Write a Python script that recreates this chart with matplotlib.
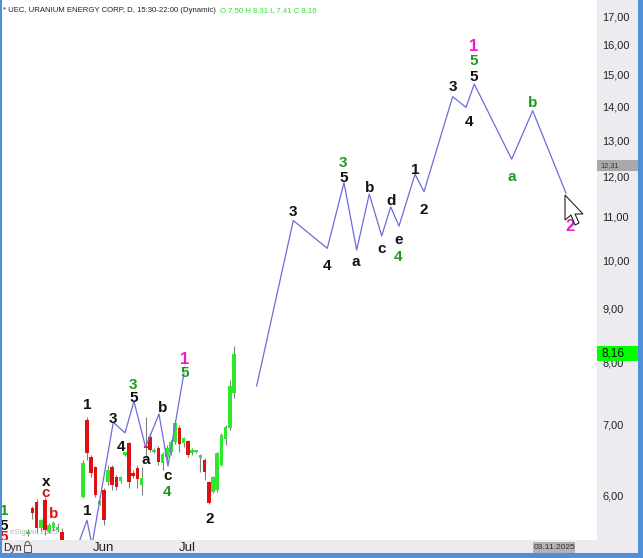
import matplotlib
matplotlib.use("Agg")
import matplotlib.pyplot as plt
from matplotlib.patches import Rectangle, Polygon, Arc
from matplotlib.transforms import blended_transform_factory
from matplotlib.ticker import FixedLocator, NullLocator, FixedFormatter, NullFormatter

plt.rcParams['font.family'] = ['Liberation Sans', 'DejaVu Sans']

W, H = 643, 558

# ---------------- data ----------------
bar_idx = list(range(50))
opens = [5.51, 5.83, 5.91, 5.58, 5.93, 5.54, 5.58, 5.56, 5.54, 5.42,
         5.33, 5.30, 5.28, 5.97, 7.07, 6.52, 6.38, 5.89, 6.07, 6.17,
         6.38, 6.24, 6.19, 6.55, 6.72, 6.29, 6.36, 6.13, 6.67, 6.81,
         6.59, 6.65, 6.43, 6.52, 6.59, 6.73, 6.94, 6.72, 6.75, 6.57,
         6.59, 6.50, 6.48, 6.17, 6.04, 6.06, 6.41, 6.78, 6.94, 7.50]
highs = [5.57, 5.86, 5.95, 5.70, 5.97, 5.65, 5.67, 5.64, 5.58, 5.40,
         5.38, 5.36, 5.38, 6.48, 7.11, 6.55, 6.39, 5.93, 6.09, 6.41,
         6.41, 6.27, 6.26, 6.59, 6.74, 6.33, 6.41, 6.38, 7.11, 6.87,
         6.64, 6.67, 6.59, 6.69, 6.76, 7.07, 6.99, 6.81, 6.76, 6.64,
         6.62, 6.56, 6.50, 6.19, 6.26, 6.59, 6.87, 6.99, 7.71, 8.31]
lows = [5.49, 5.70, 5.52, 5.55, 5.50, 5.52, 5.55, 5.53, 5.38, 5.30,
        5.25, 5.22, 5.24, 5.96, 6.48, 6.24, 5.97, 5.87, 5.62, 6.13,
        6.07, 6.07, 6.16, 6.53, 6.09, 6.22, 6.09, 6.00, 6.50, 6.59,
        6.57, 6.41, 6.34, 6.48, 6.55, 6.71, 6.59, 6.66, 6.52, 6.55,
        6.58, 6.31, 6.20, 5.88, 6.02, 6.04, 6.39, 6.69, 6.92, 7.41]
closes = [5.53, 5.77, 5.58, 5.68, 5.56, 5.62, 5.64, 5.60, 5.42, 5.33,
          5.30, 5.27, 5.35, 6.43, 6.57, 6.29, 6.00, 5.91, 5.68, 6.34,
          6.13, 6.11, 6.24, 6.57, 6.17, 6.26, 6.21, 6.23, 6.65, 6.62,
          6.62, 6.45, 6.56, 6.65, 6.73, 7.02, 6.71, 6.79, 6.55, 6.62,
          6.61, 6.55, 6.31, 5.90, 6.24, 6.57, 6.84, 6.96, 7.61, 8.16]

month_labels = ['Jun', 'Jul']
month_idx = [18, 38]

price_ticks = [6, 7, 8, 9, 10, 11, 12, 13, 14, 15, 16, 17]
tick_labels = ['6,00', '7,00', '8,00', '9,00', '10,00', '11,00', '12,00',
               '13,00', '14,00', '15,00', '16,00', '17,00']

last_price = 8.16
last_price_label = '8,16'
cursor_price = 12.31
cursor_price_label = '12,31'
cursor_date = '03.11.2025'

header = '* UEC, URANIUM ENERGY CORP, D, 15:30-22:00 (Dynamic)'
ohlc_text = 'O 7,50 H 8,31 L 7,41 C 8,16'

# Elliott wave path drawn over the candles
wave1_x = [11.86, 14.0, 15.19, 20.26, 23.05, 25.19, 27.95, 31.14, 33.29, 37.1]
wave1_y = [5.38, 5.68, 5.38, 7.03, 6.87, 7.36, 6.66, 7.16, 6.39, 7.83]
# projected wave path
wave2_x = [54.4, 63.12, 71.21, 75.19, 78.21, 81.21, 84.17, 86.31, 88.29,
           92.1, 94.24, 101.07, 104.24, 106.21, 115.12, 120.12, 128.05]
wave2_y = [7.61, 10.91, 10.27, 11.85, 10.23, 11.56, 10.55, 11.24, 10.78,
           12.07, 11.62, 14.29, 13.96, 14.69, 12.47, 13.86, 11.58]

# wave labels: text, bar index, price, colour key
lab_text = ['1', '1', '3', '4', '3', '5', 'b', 'a', 'c', '4', '1', '5', '2',
            'x', 'c', 'b', '1', '5', '5',
            '3', '4', '3', '5', 'a', 'b', 'c', 'd', 'e', '4', '1', '2',
            '3', '4', '5', '5', '1', 'b', 'a', '2']
lab_x = [14.0, 14.0, 20.19, 22.02, 25.02, 25.02, 32.02, 28.05, 33.12, 33.12, 37.17, 37.17, 43.12,
         4.17, 4.17, 6.14, -5.76, -5.76, -5.76,
         63.12, 71.26, 75.02, 75.02, 78.05, 81.21, 84.17, 86.31, 88.12, 88.12, 92.1, 94.07,
         101.07, 105.02, 106.14, 106.14, 106.14, 120.12, 115.12, 129.0]
lab_y = [7.33, 5.81, 7.11, 6.68, 7.65, 7.43, 7.27, 6.48, 6.25, 6.06, 8.08, 7.85, 5.71,
         6.17, 6.02, 5.77, 5.82, 5.63, 5.49,
         11.16, 9.92, 12.40, 12.02, 9.97, 11.74, 10.25, 11.41, 10.46, 10.12, 12.23, 11.19,
         14.63, 13.56, 14.98, 15.50, 15.99, 14.13, 12.00, 10.81]
lab_col = ['k', 'k', 'k', 'k', 'g', 'k', 'k', 'k', 'k', 'g', 'p', 'g', 'k',
           'k', 'r', 'r', 'g', 'k', 'r',
           'k', 'k', 'g', 'k', 'k', 'k', 'k', 'k', 'k', 'g', 'k', 'k',
           'k', 'k', 'k', 'g', 'p', 'g', 'g', 'p']

# ---------------- styles ----------------
colmap = {'k': '#111111', 'g': '#1f9a1f', 'p': '#ee1ad0', 'r': '#d81515'}
up_col, dn_col, wick_col = '#2ee82e', '#dd1111', '#808080'
wave_col = '#6c6cd8'
panel_col = '#ececf0'
border_col = '#4d8fd8'

fig = plt.figure(figsize=(W / 100, H / 100), dpi=100)
fig.patch.set_facecolor(panel_col)

ax = fig.add_axes([0, 18 / H, 597 / W, 540 / H])
ax.set_facecolor('white')
ax.set_yscale('log')
ax.set_xlim(-6.71, 135.43)
ax.set_ylim(5.44, 17.64)
for s in ax.spines.values():
    s.set_visible(False)
ax.xaxis.set_major_locator(NullLocator())
ax.xaxis.set_minor_locator(NullLocator())
ax.yaxis.tick_right()
ax.yaxis.set_major_locator(FixedLocator(price_ticks))
ax.yaxis.set_major_formatter(FixedFormatter(tick_labels))
ax.yaxis.set_minor_locator(NullLocator())
ax.yaxis.set_minor_formatter(NullFormatter())
ax.tick_params(axis='y', length=0, pad=4, labelsize=7.9, labelcolor='#222222')
ax.tick_params(axis='x', length=0, labelbottom=False)

# watermark (behind candles)
ax.text(10 / W, 1 - 533 / H, 'eSignal, 2025', transform=fig.transFigure,
        fontsize=5.6, color='#b5b5b5', va='center', ha='left', zorder=1)

# candles
for i, o, h, l, c in zip(bar_idx, opens, highs, lows, closes):
    col = up_col if c >= o else dn_col
    ax.vlines(i, l, h, color=wick_col, lw=0.8, zorder=2)
    lo, hi = min(o, c), max(o, c)
    if hi / lo < 1.005:
        hi = lo * 1.005
    ax.bar(i, hi - lo, bottom=lo, width=0.85, color=col, linewidth=0, zorder=3)

# wave lines
ax.plot(wave1_x, wave1_y, color=wave_col, lw=0.9, zorder=4)
ax.plot(wave2_x, wave2_y, color=wave_col, lw=0.9, zorder=4)

# wave labels
for t, x, y, ck in zip(lab_text, lab_x, lab_y, lab_col):
    fs = 12 if ck == 'p' else 11
    off = 4.0 if t in ('a', 'c', 'e', 'x') else 5.5
    if ck == 'p':
        off = 6.0
    ax.annotate(t, (x, y), xytext=(0, -off), textcoords='offset pixels',
                ha='center', va='baseline', fontsize=fs, fontweight='bold',
                color=colmap[ck], zorder=5, annotation_clip=False, clip_on=True)

# header
fig.text(3 / W, 1 - 11 / H, header, fontsize=5.55, color='#222222', va='center', ha='left')
fig.text(220 / W, 1 - 11 / H, ohlc_text, fontsize=5.55, color='#33e033', va='center', ha='left')


def fig_rect(x0, ytop, w, h, **kw):
    r = Rectangle((x0 / W, 1 - (ytop + h) / H), w / W, h / H,
                  transform=fig.transFigure, **kw)
    fig.patches.append(r)
    return r


# price boxes on the right axis
y_cur = H - ax.transData.transform((0, cursor_price))[1]
fig_rect(597, y_cur - 5.5, 43, 11, facecolor='#a9a9a9', edgecolor='none', zorder=1)
fig.text(600 / W, 1 - y_cur / H, cursor_price_label, fontsize=5.3, color='#333333',
         va='center', ha='left', zorder=3)

y_last = H - ax.transData.transform((0, last_price))[1]
fig_rect(597, y_last - 7.5, 42, 15, facecolor='#00ff00', edgecolor='none', zorder=1)
fig.text(602 / W, 1 - y_last / H, last_price_label, fontsize=8.5, color='#111111',
         va='center', ha='left', zorder=3)

# bottom strip
btr = blended_transform_factory(ax.transData, fig.transFigure)
for lbl, xi in zip(month_labels, month_idx):
    ax.text(xi, 1 - 548 / H, lbl, transform=btr, fontsize=9.5, color='#222222',
            ha='center', va='center', clip_on=False)
fig.text(3 / W, 1 - 548 / H, 'Dyn', fontsize=7.5, color='#222222', va='center', ha='left')
# lock icon
fig_rect(24, 545, 7, 7, facecolor='none', edgecolor='#555555', lw=0.7, zorder=2)
fig.patches.append(Arc((27.5 / W, 1 - 545 / H), 5 / W, 7 / H, theta1=0, theta2=180,
                       transform=fig.transFigure, color='#555555', lw=0.7))

fig_rect(533, 542, 42, 11, facecolor='#b3b3b3', edgecolor='none', zorder=1)
fig.text(554 / W, 1 - 547.5 / H, cursor_date, fontsize=6, color='#333333',
         va='center', ha='center', zorder=3)

# window borders
fig_rect(0, 553, W, 5, facecolor=border_col, edgecolor='none', zorder=2)
fig_rect(638, 0, 5, H, facecolor=border_col, edgecolor='none', zorder=2)
fig_rect(0, 0, 1.5, H, facecolor=border_col, edgecolor='none', zorder=2)

# mouse cursor
tip_x, tip_y = 565, 195
cur = [(0, 0), (0, 25), (6, 20), (10, 30), (14, 28), (10, 19), (18, 19)]
fig.patches.append(Polygon([((tip_x + dx) / W, 1 - (tip_y + dy) / H) for dx, dy in cur],
                           closed=True, transform=fig.transFigure, facecolor='white',
                           edgecolor='#222222', lw=0.8, zorder=2))

fig.savefig('out.png', dpi=100, facecolor=fig.get_facecolor())
